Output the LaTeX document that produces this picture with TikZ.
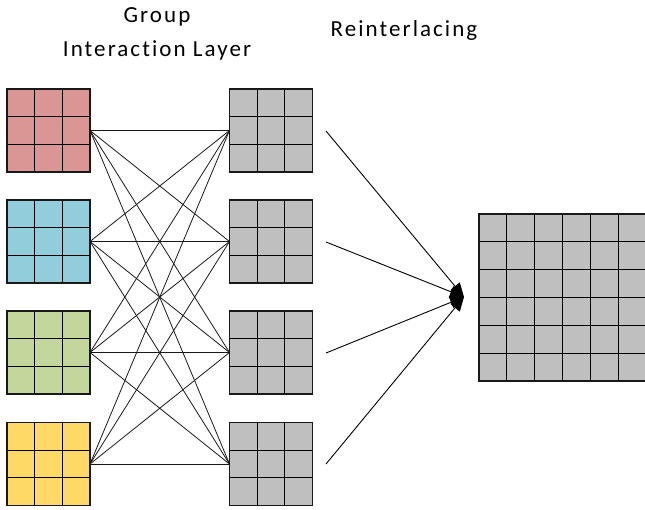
\documentclass[tikz,border=0pt]{standalone}
\usepackage{fontspec}
\newfontfamily\lblfont[LetterSpace=9,Ligatures=NoCommon]{Carlito}
\usetikzlibrary{arrows.meta,calc}
\definecolor{cred}{HTML}{D99694}
\definecolor{cblue}{HTML}{92CDDC}
\definecolor{cgreen}{HTML}{C3D69B}
\definecolor{cyellow}{HTML}{FFD966}
\definecolor{cgray}{HTML}{BFBFBF}
\newcommand\mkcells[3]{%
  \foreach \k in {#2} {
    \draw[cellline] ($(#1.north west)!\k/#3!(#1.north east)$) -- ($(#1.south west)!\k/#3!(#1.south east)$);
    \draw[cellline] ($(#1.north west)!\k/#3!(#1.south west)$) -- ($(#1.north east)!\k/#3!(#1.south east)$);
  }
  \draw[border] (#1.north west) rectangle (#1.south east);
}
\begin{document}
\begin{tikzpicture}[x=1pt,y=-1pt,
  gridbox/.style={minimum size=83pt, inner sep=0pt, outer sep=0pt},
  bigbox/.style={minimum size=167pt, inner sep=0pt, outer sep=0pt, fill=cgray},
  cellline/.style={line width=0.9pt, black},
  border/.style={line width=1.2pt, black!90},
  conn/.style={line width=0.8pt, black!90},
  arr/.style={line width=0.9pt, black, -{Triangle[length=14pt,width=12pt]}},
  lbl/.style={font=\lblfont\fontsize{23}{34}\selectfont, inner sep=0pt, align=center}]
\useasboundingbox (0,0) rectangle (645,510);
% left grids
\node[gridbox, fill=cred]    (l1) at (48.5,130.5) {};
\node[gridbox, fill=cblue]   (l2) at (48.5,241.5) {};
\node[gridbox, fill=cgreen]  (l3) at (48.5,352.5) {};
\node[gridbox, fill=cyellow] (l4) at (48.5,464) {};
% middle grids
\node[gridbox, fill=cgray] (m1) at (271,130.5) {};
\node[gridbox, fill=cgray] (m2) at (271,241.5) {};
\node[gridbox, fill=cgray] (m3) at (271,352.5) {};
\node[gridbox, fill=cgray] (m4) at (271,464) {};
% big grid
\node[bigbox] (big) at (562.5,297.5) {};
\foreach \n in {l1,l2,l3,l4,m1,m2,m3,m4} {\mkcells{\n}{1,2}{3}}
\mkcells{big}{1,2,3,4,5}{6}
% connections
\foreach \i in {1,...,4} \foreach \j in {1,...,4} \draw[conn] (l\i.east) -- (m\j.west);
% arrows
\coordinate (s1) at (326,131);
\coordinate (s2) at (326,242);
\coordinate (s3) at (326,353);
\coordinate (s4) at (326,464);
\coordinate (tip) at (464,297);
\foreach \i in {1,...,4} \draw[arr] (s\i) -- (tip);
% labels
\node[lbl, anchor=base] (t1) at (157,57) {Group\\Interaction Layer};
\node[lbl, anchor=base] (t2) at (404,37) {Reinterlacing};
\end{tikzpicture}
\end{document}
